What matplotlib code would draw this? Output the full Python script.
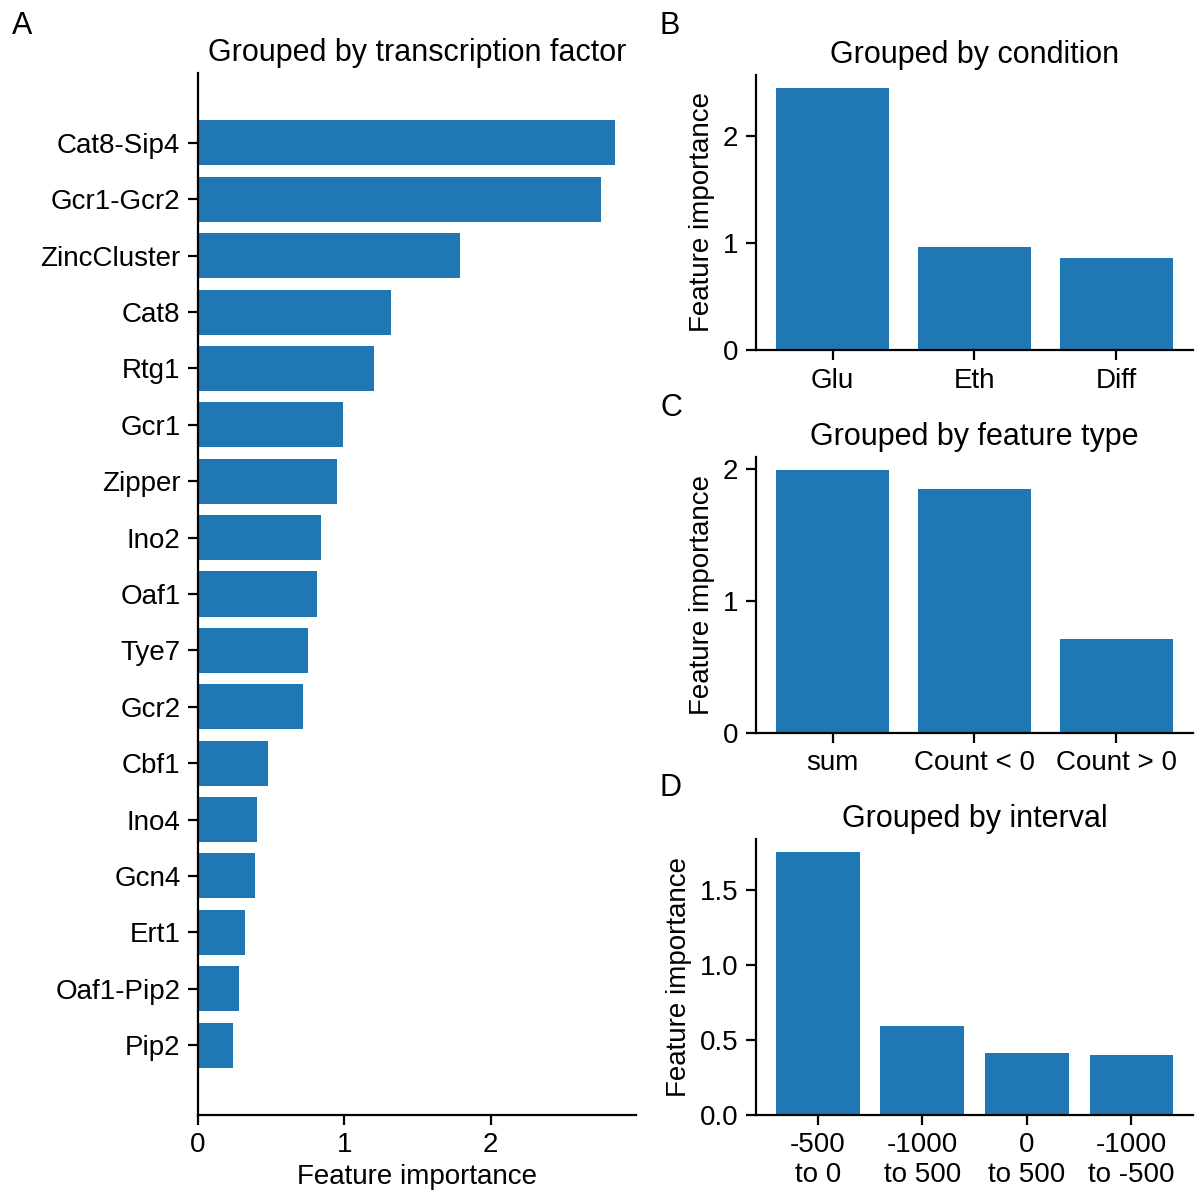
import matplotlib
matplotlib.use("Agg")
import matplotlib.pyplot as plt

plt.rcParams['font.family'] = ['Liberation Sans', 'DejaVu Sans']
plt.rcParams['font.size'] = 10
plt.rcParams['xtick.major.pad'] = 2.8
plt.rcParams['ytick.major.pad'] = 2.8

# data
tf_names = ["Cat8-Sip4", "Gcr1-Gcr2", "ZincCluster", "Cat8", "Rtg1", "Gcr1",
            "Zipper", "Ino2", "Oaf1", "Tye7", "Gcr2", "Cbf1", "Ino4", "Gcn4",
            "Ert1", "Oaf1-Pip2", "Pip2"]
tf_importance = [2.85, 2.75, 1.79, 1.32, 1.20, 0.99, 0.95, 0.84, 0.81, 0.75,
                 0.72, 0.48, 0.40, 0.39, 0.32, 0.28, 0.24]

conditions = ["Glu", "Eth", "Diff"]
condition_importance = [2.45, 0.96, 0.86]

feature_types = ["sum", "Count < 0", "Count > 0"]
feature_type_importance = [1.99, 1.85, 0.71]

intervals = ["-500\nto 0", "-1000\nto 500", "0\nto 500", "-1000\nto -500"]
interval_importance = [1.753, 0.593, 0.413, 0.40]

color = "#1f77b4"

W, H = 1197, 1193
fig = plt.figure(figsize=(W / 200, H / 200), dpi=200)


def px_axes(left, top, right, bottom):
    return fig.add_axes([left / W, 1 - bottom / H, (right - left) / W, (bottom - top) / H])


def clean(ax):
    ax.spines['top'].set_visible(False)
    ax.spines['right'].set_visible(False)


# A
axA = px_axes(198, 73, 636, 1115)
pos = range(len(tf_names))
axA.barh(pos, tf_importance, color=color, height=0.8)
axA.set_yticks(list(pos))
axA.set_yticklabels(tf_names)
axA.invert_yaxis()
axA.set_xlabel("Feature importance", labelpad=2)
axA.set_title("Grouped by transcription factor", fontsize=11, pad=4.5)
clean(axA)

# B, C, D
panels = [
    (px_axes(756, 75, 1193, 350), conditions, condition_importance, "Grouped by condition"),
    (px_axes(756, 457, 1193, 733), feature_types, feature_type_importance, "Grouped by feature type"),
    (px_axes(756, 839, 1193, 1115), intervals, interval_importance, "Grouped by interval"),
]
for ax, cats, vals, title in panels:
    x = range(len(cats))
    ax.bar(x, vals, color=color, width=0.8)
    ax.set_xticks(list(x))
    ax.set_xticklabels(cats)
    ax.set_ylabel("Feature importance", labelpad=3)
    ax.set_title(title, fontsize=11, pad=4.5)
    clean(ax)

panels[2][0].set_yticks([0, 0.5, 1.0, 1.5])
panels[2][0].set_yticklabels(["0.0", "0.5", "1.0", "1.5"])

for letter, xp, yp in [("A", 12, 11), ("B", 660, 11), ("C", 660, 393), ("D", 660, 773)]:
    fig.text(xp / W, 1 - yp / H, letter, fontsize=11, va='top', ha='left')

fig.savefig("out.png", dpi=200)
